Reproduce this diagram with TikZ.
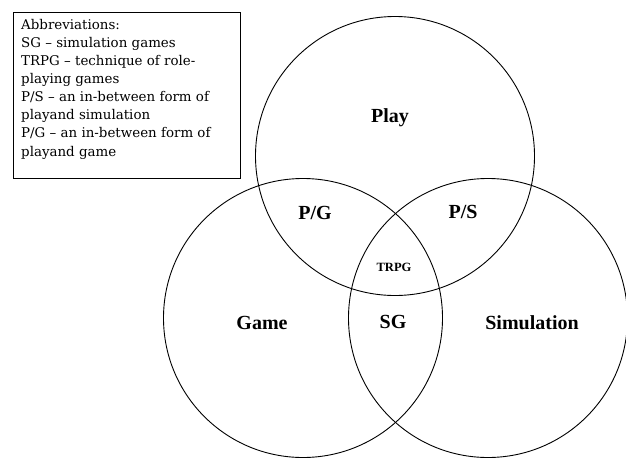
\documentclass[tikz,border=0pt]{standalone}
\usepackage{fontspec}
\setmainfont{Liberation Serif}
\newfontfamily\boxfont{DejaVu Serif}
\begin{document}
\begin{tikzpicture}[x=1pt,y=-1pt,
  setcircle/.style={circle, draw=black, line width=0.9pt, minimum size=279pt, inner sep=0pt},
  biglabel/.style={font=\fontsize{20}{22}\selectfont\bfseries, inner sep=0pt},
  smalllabel/.style={font=\fontsize{12.6}{14}\selectfont\bfseries, inner sep=0pt},
  legendbox/.style={draw=black, line width=1.3pt, minimum width=227pt, minimum height=166pt, inner sep=0pt}]
\useasboundingbox (0,0) rectangle (626,461);
\node[setcircle] (play) at (395,156) {};
\node[setcircle] (game) at (303,318) {};
\node[setcircle] (sim) at (488,318) {};
\node[legendbox, anchor=north west] (legend) at (13,12) {};
\node[anchor=north west, inner sep=0pt, align=left, font=\boxfont\fontsize{13.4}{18.1}\selectfont] (legtext) at (21,19) {Abbreviations:\\
SG – simulation games\\
TRPG – technique of role-\\
playing games\\
P/S – an in-between form of\\
playand simulation\\
P/G – an in-between form of\\
playand game};
\node[biglabel] (lplay) at (390,118) {Play};
\node[biglabel] (lpg) at (315,213) {P/G};
\node[biglabel] (lps) at (463,212) {P/S};
\node[smalllabel] (ltrpg) at (394,267) {TRPG};
\node[biglabel] (lgame) at (262,323) {Game};
\node[biglabel] (lsg) at (393,322) {SG};
\node[biglabel] (lsim) at (532,323) {Simulation};
\end{tikzpicture}
\end{document}
